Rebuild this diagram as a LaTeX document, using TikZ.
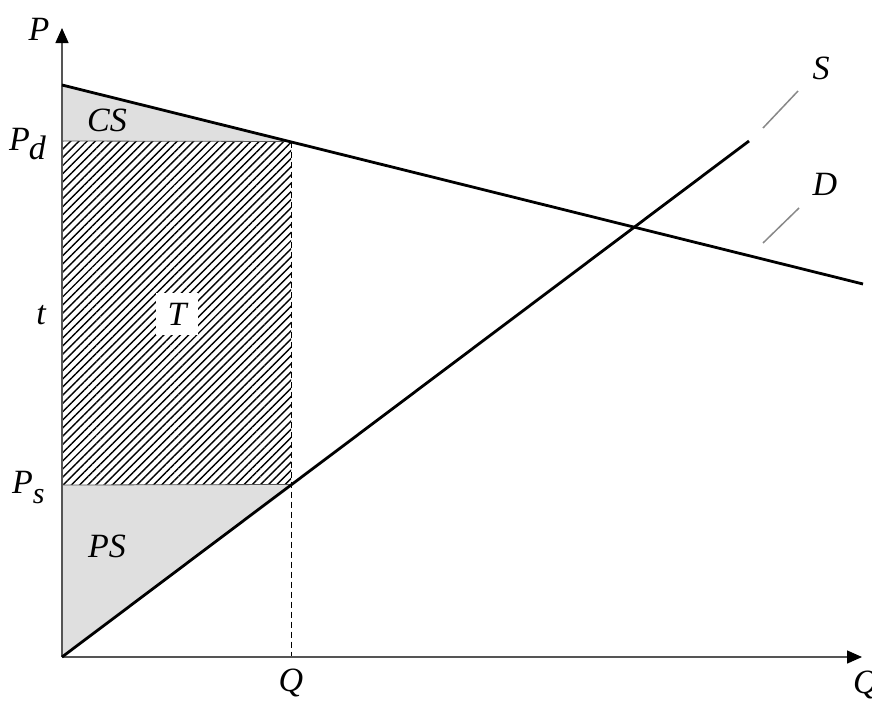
\documentclass[tikz,border=0pt]{standalone}
\usepackage{fontspec}
\setmainfont{Liberation Serif}
\usetikzlibrary{patterns.meta,arrows.meta}
\definecolor{areagray}{HTML}{DFDFDF}
\definecolor{axisgray}{HTML}{555555}
\definecolor{markgray}{HTML}{888888}
\begin{document}
\begin{tikzpicture}[x=1pt,y=-1pt,
  lbl/.style={font=\fontsize{34}{36}\selectfont\itshape, inner sep=0pt, anchor=base},
  area/.style={fill=areagray},
  hatch/.style={pattern={Lines[angle=45,distance=5.8pt,line width=1.4pt]}},
  axisline/.style={draw=axisgray, line width=1.4pt, -{Triangle[length=15pt,width=13pt,color=black]}},
  curve/.style={draw=black, line width=2.8pt},
  thinline/.style={draw=axisgray, line width=0.8pt},
  dropline/.style={draw=black, line width=0.8pt, dash pattern=on 6pt off 4pt},
  marker/.style={draw=markgray, line width=1.5pt}]
\useasboundingbox (0,0) rectangle (872,704);
% points
\coordinate (O) at (62,657);
\coordinate (Ytip) at (62,28);
\coordinate (Xtip) at (862,657);
\coordinate (D0) at (62,85);
\coordinate (D1) at (863,284);
\coordinate (S1) at (749,141);
\coordinate (Pd) at (62,141);
\coordinate (Ps) at (62,485);
\coordinate (Qd) at (291,141.5);
\coordinate (Qs) at (291,484.5);
\coordinate (Q) at (291,657);
\coordinate (Sa) at (763,128);
\coordinate (Sb) at (798,91);
\coordinate (Da) at (763,243);
\coordinate (Db) at (799,208);
% areas
\fill[area] (D0) -- (Qd) -- (Pd) -- cycle;
\fill[hatch] (Pd) rectangle (Qs);
\fill[area] (Ps) -- (Qs) -- (O) -- cycle;
\draw[thinline] (Pd) -- (Qd);
\draw[thinline] (Ps) -- (Qs);
\draw[dropline] (Qd) -- (Q);
% axes
\draw[axisline] (O) -- (Ytip);
\draw[axisline] (O) -- (Xtip);
% curves
\draw[curve] (D0) -- (D1);
\draw[curve] (O) -- (S1);
\draw[marker] (Sa) -- (Sb);
\draw[marker] (Da) -- (Db);
% labels
\node[lbl] (lP) at (39,40) {P};
\node[lbl, anchor=base west] (lPd) at (9,150) {P\kern-1pt\raisebox{-9pt}{d}};
\node[lbl] (lt) at (41,324) {t};
\node[lbl, anchor=base west] (lPs) at (12,493) {P\kern0pt\raisebox{-10pt}{\fontsize{30}{32}\selectfont s}};
\node[lbl] (lCS) at (107,131) {CS};
\node[lbl] (lPS) at (107,557) {PS};
\node[lbl, fill=white, inner sep=0pt, minimum width=42pt, minimum height=42pt, anchor=center] (lT) at (177,314) {T};
\node[lbl] (lQ) at (291,691) {Q};
\node[lbl, anchor=base west] (lQx) at (853,693) {Q};
\node[lbl] (lS) at (821,79) {S};
\node[lbl] (lD) at (825,195) {D};
\end{tikzpicture}
\end{document}
